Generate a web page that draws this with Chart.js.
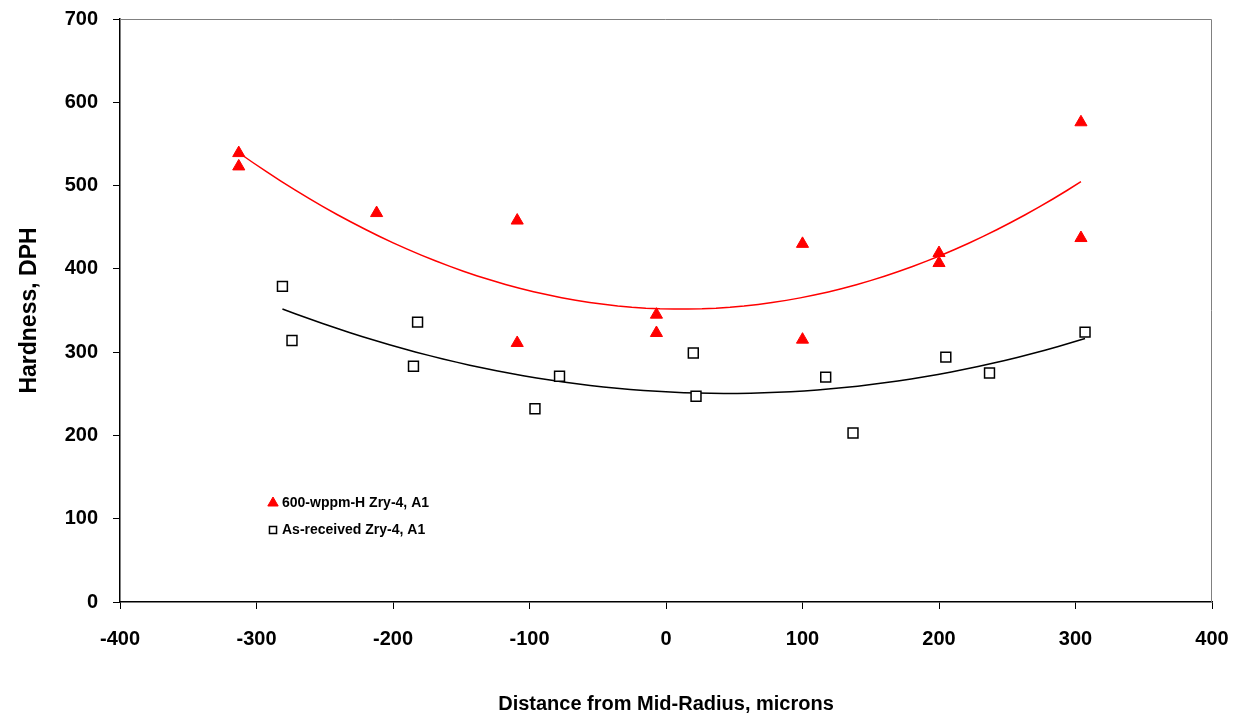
<!DOCTYPE html>
<html>
<head>
<meta charset="utf-8">
<script src="https://cdn.jsdelivr.net/npm/chart.js@4.4.1/dist/chart.umd.min.js"></script>
<style>
  html, body { margin: 0; padding: 0; background: #fff; }
  #wrap { width: 1239px; height: 717px; }
</style>
</head>
<body>
<div id="wrap"><canvas id="grafica" width="1239" height="717"></canvas></div>
<script>
// datos
const hidruradoX = [-313, -313, -212, -109, -109, -7, -7, 100, 100, 200, 200, 304, 304];
const hidruradoY = [539, 523, 467, 458, 311, 345, 323, 430, 315, 419, 407, 576, 437];

const recibidoX = [-281, -274, -182, -185, -96, -78, 20, 22, 117, 137, 205, 237, 307];
const recibidoY = [379, 314, 336, 283, 232, 271, 299, 247, 270, 203, 294, 275, 324];

const ticksX = [-400, -300, -200, -100, 0, 100, 200, 300, 400];
const ticksY = [0, 100, 200, 300, 400, 500, 600, 700];

const nombreHidrurado = "600-wppm-H Zry-4, A1";
const nombreRecibido = "As-received Zry-4, A1";

const fuente = "'Liberation Sans', Arial, sans-serif";

function puntos(xs, ys) {
  return xs.map((x, i) => ({ x, y: ys[i] }));
}

// tendencia polinomica de orden 2 (minimos cuadrados), como la de Excel
function ajusteCuadratico(xs, ys) {
  let s = [0, 0, 0, 0, 0], t = [0, 0, 0];
  xs.forEach((x, i) => {
    for (let k = 0; k < 5; k++) s[k] += Math.pow(x, k);
    for (let k = 0; k < 3; k++) t[k] += ys[i] * Math.pow(x, k);
  });
  const m = [[s[0], s[1], s[2], t[0]], [s[1], s[2], s[3], t[1]], [s[2], s[3], s[4], t[2]]];
  for (let c = 0; c < 3; c++) {
    for (let r = c + 1; r < 3; r++) {
      const f = m[r][c] / m[c][c];
      for (let k = c; k < 4; k++) m[r][k] -= f * m[c][k];
    }
  }
  const a = [0, 0, 0];
  for (let r = 2; r >= 0; r--) {
    let v = m[r][3];
    for (let k = r + 1; k < 3; k++) v -= m[r][k] * a[k];
    a[r] = v / m[r][r];
  }
  return a;
}

function curva(xs, ys) {
  const a = ajusteCuadratico(xs, ys);
  const x0 = Math.min(...xs), x1 = Math.max(...xs);
  const res = [];
  for (let i = 0; i <= 60; i++) {
    const x = x0 + (x1 - x0) * i / 60;
    res.push({ x, y: a[0] + a[1] * x + a[2] * x * x });
  }
  return res;
}

const marco = {
  id: "marco",
  beforeDatasetsDraw(chart) {
    const { ctx, chartArea } = chart;
    ctx.save();
    ctx.strokeStyle = "#808080";
    ctx.lineWidth = 1;
    ctx.beginPath();
    ctx.moveTo(chartArea.left, chartArea.top + 0.5);
    ctx.lineTo(chartArea.right - 0.5, chartArea.top + 0.5);
    ctx.lineTo(chartArea.right - 0.5, chartArea.bottom);
    ctx.stroke();
    ctx.restore();
  },
  afterDraw(chart) {
    const ctx = chart.ctx;
    const items = [
      { ds: chart.data.datasets[0], texto: nombreHidrurado, y: 503 },
      { ds: chart.data.datasets[1], texto: nombreRecibido, y: 530 }
    ];
    ctx.save();
    items.forEach(it => {
      ctx.fillStyle = it.ds.pointBackgroundColor;
      ctx.strokeStyle = it.ds.pointBorderColor;
      ctx.lineWidth = it.ds.pointBorderWidth;
      Chart.helpers.drawPoint(ctx, {
        pointStyle: it.ds.pointStyle,
        radius: it.ds.pointStyle === "triangle" ? 6 : 5,
        borderWidth: it.ds.pointBorderWidth
      }, 273, it.y);
      ctx.fillStyle = "#000";
      ctx.font = "bold 14px " + fuente;
      ctx.textBaseline = "middle";
      ctx.fillText(it.texto, 282, it.y);
    });
    ctx.restore();
  }
};

new Chart(document.getElementById("grafica"), {
  type: "scatter",
  data: {
    datasets: [
      {
        label: nombreHidrurado,
        data: puntos(hidruradoX, hidruradoY),
        pointStyle: "triangle",
        pointRadius: 7,
        pointBackgroundColor: "#ff0000",
        pointBorderColor: "#ff0000",
        pointBorderWidth: 1,
        showLine: false
      },
      {
        label: nombreRecibido,
        data: puntos(recibidoX, recibidoY),
        pointStyle: "rect",
        pointRadius: 7,
        pointBackgroundColor: "#ffffff",
        pointBorderColor: "#000000",
        pointBorderWidth: 1.5,
        showLine: false
      },
      {
        label: "tendencia hidrurado",
        data: curva(hidruradoX, hidruradoY),
        showLine: true,
        borderColor: "#ff0000",
        borderWidth: 1.5,
        pointRadius: 0,
        tension: 0
      },
      {
        label: "tendencia recibido",
        data: curva(recibidoX, recibidoY),
        showLine: true,
        borderColor: "#000000",
        borderWidth: 1.5,
        pointRadius: 0,
        tension: 0
      }
    ]
  },
  options: {
    responsive: false,
    animation: false,
    layout: { padding: { top: 19, right: 27, left: 0, bottom: 0 } },
    plugins: {
      legend: { display: false },
      tooltip: { enabled: false }
    },
    scales: {
      x: {
        type: "linear",
        min: -400,
        max: 400,
        afterBuildTicks: s => { s.ticks = ticksX.map(v => ({ value: v })); },
        afterFit: s => { s.height = 115; s.paddingLeft = 0; s.paddingRight = 0; },
        grid: { drawOnChartArea: false, drawTicks: true, tickLength: 7, color: "#000" },
        border: { display: true, color: "#000", width: 1.5 },
        ticks: { color: "#000", padding: 18, font: { family: fuente, size: 20, weight: "bold" } },
        title: {
          display: true,
          text: "Distance from Mid-Radius, microns",
          color: "#000",
          padding: { top: 0, bottom: 1 },
          font: { family: fuente, size: 20, weight: "bold" }
        }
      },
      y: {
        type: "linear",
        min: 0,
        max: 700,
        afterBuildTicks: s => { s.ticks = ticksY.map(v => ({ value: v })); },
        afterFit: s => { s.width = 120; s.paddingTop = 0; s.paddingBottom = 0; },
        grid: { drawOnChartArea: false, drawTicks: true, tickLength: 7, color: "#000" },
        border: { display: true, color: "#000", width: 1.5 },
        ticks: { color: "#000", padding: 15, font: { family: fuente, size: 20, weight: "bold" } },
        title: {
          display: true,
          text: "Hardness, DPH",
          color: "#000",
          padding: { top: 16, bottom: 0 },
          font: { family: fuente, size: 23, weight: "bold" }
        }
      }
    }
  },
  plugins: [marco]
});
</script>
</body>
</html>
